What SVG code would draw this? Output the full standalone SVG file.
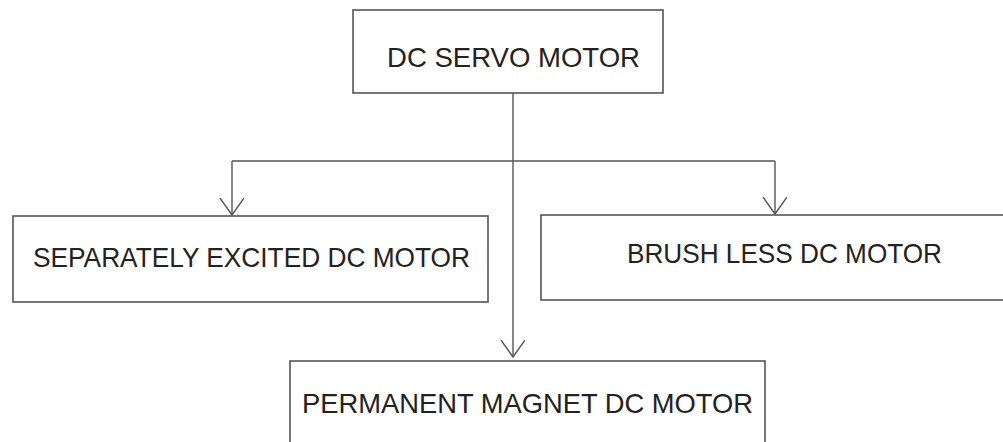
<svg xmlns="http://www.w3.org/2000/svg" width="1003" height="442" viewBox="0 0 1003 442">
<style>
.box{fill:#fff;stroke:#555;stroke-width:1.6}
.lbl{font-family:"Liberation Sans",Arial,sans-serif;font-size:28px;fill:#222;font-weight:normal}
.wire{fill:none;stroke:#555;stroke-width:1.4}
</style>
<defs>
<marker id="ah" markerUnits="userSpaceOnUse" markerWidth="30" markerHeight="30" refX="17" refY="12" orient="auto">
<path d="M0,0 L17,12 L0,24" fill="none" stroke="#555" stroke-width="1.4"/>
</marker>
</defs>
<rect width="1003" height="442" fill="#fff"/>
<g id="connectors">
<path class="wire" d="M513,93 L513,357" marker-end="url(#ah)"/>
<path class="wire" d="M232,161 L775,161"/>
<path class="wire" d="M232,161 L232,215" marker-end="url(#ah)"/>
<path class="wire" d="M775,161 L775,214" marker-end="url(#ah)"/>
</g>
<g id="n_servo">
<rect class="box" x="353" y="10" width="310" height="83"/>
<text class="lbl" x="387" y="67" textLength="253" lengthAdjust="spacingAndGlyphs">DC SERVO MOTOR</text>
</g>
<g id="n_separately">
<rect class="box" x="13" y="216" width="475" height="86"/>
<text class="lbl" x="33" y="267" textLength="437" lengthAdjust="spacingAndGlyphs">SEPARATELY EXCITED DC MOTOR</text>
</g>
<g id="n_brushless">
<rect class="box" x="541" y="215" width="470" height="85"/>
<text class="lbl" x="627" y="263" textLength="315" lengthAdjust="spacingAndGlyphs">BRUSH LESS DC MOTOR</text>
</g>
<g id="n_permanent">
<rect class="box" x="290" y="361" width="475" height="100"/>
<text class="lbl" x="302" y="413" textLength="451" lengthAdjust="spacingAndGlyphs">PERMANENT MAGNET DC MOTOR</text>
</g>
</svg>
